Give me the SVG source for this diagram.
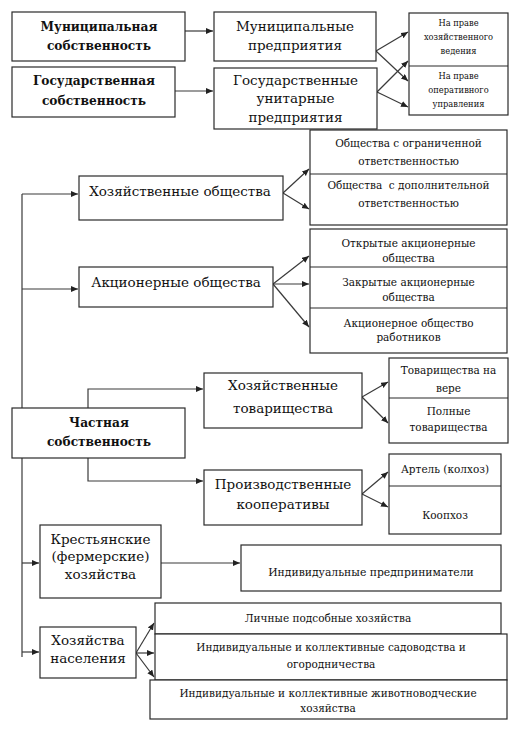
<svg xmlns="http://www.w3.org/2000/svg" width="520" height="732" viewBox="0 0 520 732">
<style>
rect{fill:#fff;stroke:#2a2a2a;stroke-width:1.2}
.dv{stroke:#2a2a2a;stroke-width:1.2}
text{fill:#111;text-anchor:middle;font-family:"DejaVu Serif",serif}
.b{font-size:12.2px;font-weight:bold}
.m{font-size:13.5px}
.s{font-size:10.5px}
.t{font-size:8.3px}
.c{fill:none;stroke:#3a3a3a;stroke-width:1.2}
</style>
<defs>
<marker id="ah" markerUnits="userSpaceOnUse" markerWidth="8" markerHeight="8" refX="7" refY="3" orient="auto">
<path d="M0,0 L7,3 L0,6 Z" fill="#222"/>
</marker>
</defs>
<g id="connectors">
<line class="c" x1="185" y1="31" x2="213" y2="31" marker-end="url(#ah)"/>
<line class="c" x1="175" y1="91" x2="213" y2="91" marker-end="url(#ah)"/>
<line class="c" x1="376" y1="51" x2="408" y2="32" marker-end="url(#ah)"/>
<line class="c" x1="376" y1="51" x2="408" y2="81" marker-end="url(#ah)"/>
<line class="c" x1="377" y1="92" x2="408" y2="61" marker-end="url(#ah)"/>
<line class="c" x1="377" y1="92" x2="408" y2="107" marker-end="url(#ah)"/>
<line class="c" x1="22" y1="194" x2="22" y2="657"/>
<line class="c" x1="22" y1="194" x2="78" y2="194" marker-end="url(#ah)"/>
<line class="c" x1="22" y1="289" x2="78" y2="289" marker-end="url(#ah)"/>
<line class="c" x1="22" y1="563" x2="39" y2="563" marker-end="url(#ah)"/>
<line class="c" x1="22" y1="652" x2="39" y2="652" marker-end="url(#ah)"/>
<line class="c" x1="283" y1="193" x2="309" y2="169" marker-end="url(#ah)"/>
<line class="c" x1="283" y1="193" x2="309" y2="209" marker-end="url(#ah)"/>
<line class="c" x1="273" y1="284" x2="309" y2="256" marker-end="url(#ah)"/>
<line class="c" x1="273" y1="284" x2="309" y2="284" marker-end="url(#ah)"/>
<line class="c" x1="273" y1="284" x2="309" y2="327" marker-end="url(#ah)"/>
<path class="c" d="M88,408 V389 H203" marker-end="url(#ah)"/>
<path class="c" d="M88,458 V481 H203" marker-end="url(#ah)"/>
<line class="c" x1="362" y1="397" x2="388" y2="382" marker-end="url(#ah)"/>
<line class="c" x1="362" y1="397" x2="388" y2="423" marker-end="url(#ah)"/>
<line class="c" x1="362" y1="494" x2="388" y2="472" marker-end="url(#ah)"/>
<line class="c" x1="362" y1="494" x2="388" y2="507" marker-end="url(#ah)"/>
<line class="c" x1="161" y1="563" x2="240" y2="563" marker-end="url(#ah)"/>
<line class="c" x1="136" y1="653" x2="154" y2="623" marker-end="url(#ah)"/>
<line class="c" x1="136" y1="653" x2="154" y2="653" marker-end="url(#ah)"/>
<line class="c" x1="136" y1="653" x2="154" y2="677" marker-end="url(#ah)"/>
</g>
<g id="mun_own">
<rect x="12" y="12" width="173" height="49"/>
<text class="b" x="99" y="31">Муниципальная</text>
<text class="b" x="99" y="50">собственность</text>
</g>
<g id="gov_own">
<rect x="12" y="67" width="163" height="50"/>
<text class="b" x="94" y="85">Государственная</text>
<text class="b" x="94" y="105">собственность</text>
</g>
<g id="mun_ent">
<rect x="214" y="12" width="162" height="49"/>
<text class="m" x="295" y="31">Муниципальные</text>
<text class="m" x="295" y="50">предприятия</text>
</g>
<g id="gov_ent">
<rect x="214" y="68" width="163" height="61"/>
<text class="m" x="295.5" y="85">Государственные</text>
<text class="m" x="295.5" y="103">унитарные</text>
<text class="m" x="295.5" y="122">предприятия</text>
</g>
<g id="rights">
<rect x="409" y="13" width="99" height="102"/>
<line class="dv" x1="409" y1="66" x2="508" y2="66"/>
<text class="t" x="458.5" y="26">На праве</text>
<text class="t" x="458.5" y="40">хозяйственного</text>
<text class="t" x="458.5" y="54">ведения</text>
<text class="t" x="458.5" y="79">На праве</text>
<text class="t" x="458.5" y="93">оперативного</text>
<text class="t" x="458.5" y="107">управления</text>
</g>
<g id="hoz_obsh">
<rect x="79" y="176" width="204" height="44"/>
<text class="m" x="180" y="196">Хозяйственные общества</text>
</g>
<g id="hoz_obsh_types">
<rect x="310" y="130" width="197" height="95"/>
<line class="dv" x1="310" y1="174" x2="507" y2="174"/>
<text class="s" x="408.5" y="147">Общества с ограниченной</text>
<text class="s" x="408.5" y="165">ответственностью</text>
<text class="s" x="408.5" y="189" xml:space="preserve">Общества  с дополнительной</text>
<text class="s" x="408.5" y="207">ответственностью</text>
</g>
<g id="akc_obsh">
<rect x="79" y="267" width="194" height="40"/>
<text class="m" x="176" y="287">Акционерные общества</text>
</g>
<g id="akc_types">
<rect x="310" y="229" width="197" height="124"/>
<line class="dv" x1="310" y1="267" x2="507" y2="267"/>
<line class="dv" x1="310" y1="308" x2="507" y2="308"/>
<text class="s" x="408.5" y="247">Открытые акционерные</text>
<text class="s" x="408.5" y="262">общества</text>
<text class="s" x="408.5" y="286">Закрытые акционерные</text>
<text class="s" x="408.5" y="301">общества</text>
<text class="s" x="408.5" y="327">Акционерное общество</text>
<text class="s" x="408.5" y="341">работников</text>
</g>
<g id="chastnaya">
<rect x="12" y="408" width="173" height="50"/>
<text class="b" x="99" y="427">Частная</text>
<text class="b" x="99" y="446">собственность</text>
</g>
<g id="hoz_tov">
<rect x="204" y="373" width="158" height="55"/>
<text class="m" x="283" y="390">Хозяйственные</text>
<text class="m" x="283" y="413">товарищества</text>
</g>
<g id="tov_types">
<rect x="389" y="358" width="119" height="85"/>
<line class="dv" x1="389" y1="398" x2="508" y2="398"/>
<text class="s" x="448.5" y="374">Товарищества на</text>
<text class="s" x="448.5" y="392">вере</text>
<text class="s" x="448.5" y="415">Полные</text>
<text class="s" x="448.5" y="431">товарищества</text>
</g>
<g id="proizv_koop">
<rect x="204" y="470" width="158" height="55"/>
<text class="m" x="283" y="489">Производственные</text>
<text class="m" x="283" y="509">кооперативы</text>
</g>
<g id="koop_types">
<rect x="389" y="454" width="112" height="80"/>
<line class="dv" x1="389" y1="486" x2="501" y2="486"/>
<text class="s" x="445" y="473">Артель (колхоз)</text>
<text class="s" x="445" y="519">Коопхоз</text>
</g>
<g id="krest">
<rect x="40" y="525" width="121" height="73"/>
<text class="m" x="100.5" y="544">Крестьянские</text>
<text class="m" x="100.5" y="561">(фермерские)</text>
<text class="m" x="100.5" y="579">хозяйства</text>
</g>
<g id="ind_pred">
<rect x="241" y="545" width="260" height="46"/>
<text class="s" x="371" y="576" style="font-size:10.8px">Индивидуальные предприниматели</text>
</g>
<g id="hoz_nas">
<rect x="40" y="627" width="96" height="51"/>
<text class="m" x="88" y="645">Хозяйства</text>
<text class="m" x="88" y="663">населения</text>
</g>
<g id="lichnye">
<rect x="155" y="603" width="346" height="31"/>
<text class="s" x="328" y="622">Личные подсобные хозяйства</text>
</g>
<g id="sadov">
<rect x="155" y="634" width="352" height="46"/>
<text class="s" x="331" y="651">Индивидуальные и коллективные садоводства и</text>
<text class="s" x="331" y="668">огородничества</text>
</g>
<g id="zhivot">
<rect x="150" y="680" width="357" height="39"/>
<text class="s" x="328" y="697">Индивидуальные и коллективные животноводческие</text>
<text class="s" x="328" y="712">хозяйства</text>
</g>
</svg>
